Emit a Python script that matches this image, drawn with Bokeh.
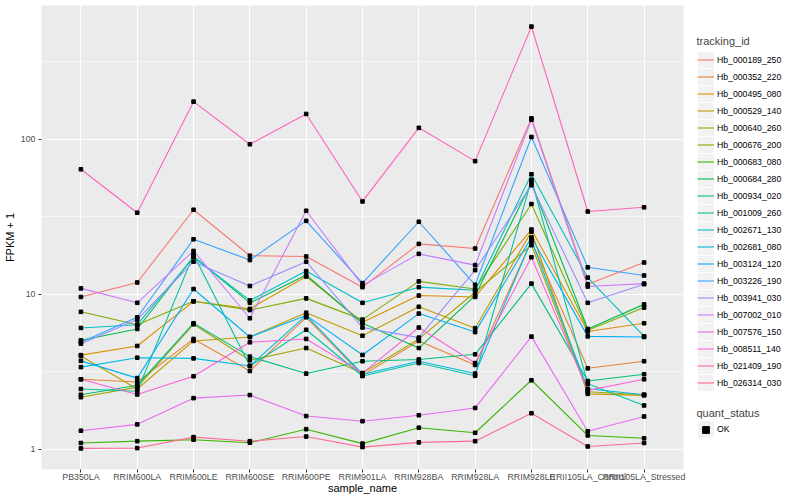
import math
from bokeh.plotting import figure
from bokeh.layouts import row
from bokeh.models import (ColumnDataSource, FactorRange, Range1d, FixedTicker,
                          NumeralTickFormatter, Legend, LegendItem, Label)
from bokeh.embed import file_html
from bokeh.resources import INLINE

samples = ["PB350LA", "RRIM600LA", "RRIM600LE", "RRIM600SE", "RRIM600PE",
           "RRIM901LA", "RRIM928BA", "RRIM928LA", "RRIM928LE",
           "RRII105LA_Control", "RRII105LA_Stressed"]

tracking_ids = ["Hb_000189_250", "Hb_000352_220", "Hb_000495_080", "Hb_000529_140",
                "Hb_000640_260", "Hb_000676_200", "Hb_000683_080", "Hb_000684_280",
                "Hb_000934_020", "Hb_001009_260", "Hb_002671_130", "Hb_002681_080",
                "Hb_003124_120", "Hb_003226_190", "Hb_003941_030", "Hb_007002_010",
                "Hb_007576_150", "Hb_008511_140", "Hb_021409_190", "Hb_026314_030"]

# FPKM + 1 per sample (order of `samples`)
Hb_000189_250 = [9.6, 11.9, 35, 17.7, 17.5, 11.1, 21.1, 19.7, 136, 11.6, 16.0]
Hb_000352_220 = [2.83, 2.72, 5.15, 3.2, 7.1, 3.0, 5.0, 3.5, 22.0, 3.33, 3.7]
Hb_000495_080 = [4.05, 4.64, 9.0, 8.05, 13.0, 6.6, 9.8, 9.6, 26.1, 5.75, 6.5]
Hb_000529_140 = [4.0, 2.45, 5.0, 5.3, 7.6, 5.4, 8.3, 6.04, 25.3, 2.28, 2.23]
Hb_000640_260 = [2.17, 2.52, 6.4, 3.75, 4.5, 3.1, 5.15, 10.3, 20.7, 2.35, 2.25]
Hb_000676_200 = [7.7, 6.36, 9.0, 7.9, 9.4, 6.86, 12.1, 10.8, 38.1, 5.85, 8.2]
Hb_000683_080 = [1.10, 1.13, 1.155, 1.105, 1.35, 1.09, 1.38, 1.28, 2.79, 1.23, 1.18]
Hb_000684_280 = [5.05, 5.97, 17.5, 8.8, 13.3, 6.5, 4.5, 9.8, 52.2, 5.97, 8.6]
Hb_000934_020 = [2.25, 2.59, 6.5, 3.96, 3.08, 3.7, 3.8, 4.1, 11.7, 2.76, 3.05]
Hb_001009_260 = [2.45, 2.37, 18.0, 3.45, 5.9, 2.97, 3.6, 2.98, 54.6, 2.65, 1.92]
Hb_002671_130 = [6.06, 6.36, 17.3, 9.12, 14.1, 8.8, 11.1, 10.6, 59.3, 12.8, 5.35]
Hb_002681_080 = [3.39, 3.9, 3.86, 3.45, 7.3, 3.05, 3.7, 3.08, 22.2, 2.46, 2.25]
Hb_003124_120 = [3.72, 2.88, 10.8, 5.3, 7.3, 4.06, 7.5, 5.7, 23.2, 5.35, 5.3]
Hb_003226_190 = [4.9, 7.1, 22.6, 16.6, 29.7, 11.8, 29.3, 11.5, 103, 14.9, 13.2]
Hb_003941_030 = [4.8, 6.86, 16.2, 11.3, 16.2, 6.1, 5.25, 14.3, 50.4, 8.8, 11.6]
Hb_007002_010 = [10.9, 8.8, 19.0, 7.0, 34.5, 11.4, 18.2, 15.4, 133, 11.2, 11.7]
Hb_007576_150 = [1.32, 1.45, 2.14, 2.24, 1.64, 1.52, 1.66, 1.85, 5.33, 1.31, 1.63]
Hb_008511_140 = [2.83, 2.26, 2.96, 4.9, 5.15, 3.1, 6.1, 3.6, 17.3, 2.4, 2.83]
Hb_021409_190 = [63.8, 33.5, 174, 92.5, 145, 39.6, 118, 72, 530, 34.1, 36.3]
Hb_026314_030 = [1.015, 1.02, 1.20, 1.13, 1.21, 1.035, 1.11, 1.13, 1.71, 1.045, 1.10]

series = [Hb_000189_250, Hb_000352_220, Hb_000495_080, Hb_000529_140, Hb_000640_260,
          Hb_000676_200, Hb_000683_080, Hb_000684_280, Hb_000934_020, Hb_001009_260,
          Hb_002671_130, Hb_002681_080, Hb_003124_120, Hb_003226_190, Hb_003941_030,
          Hb_007002_010, Hb_007576_150, Hb_008511_140, Hb_021409_190, Hb_026314_030]

colors = ["#F8766D", "#EA8331", "#D89000", "#C09B00", "#A3A500", "#7CAE00", "#39B600",
          "#00BB4E", "#00BF7D", "#00C1A3", "#00BFC4", "#00BAE0", "#00B0F6", "#35A2FF",
          "#9590FF", "#C77CFF", "#E76BF3", "#FA62DB", "#FF62BC", "#FF6C91"]

quant_status = ["OK"]
y_ticks = [1, 10, 100]
y_minor = [10 ** -0.5, 10 ** 0.5, 10 ** 1.5, 10 ** 2.5]

FONT = "Liberation Sans"
H = 500
MAIN_W = 689
LEG_W = 800 - MAIN_W
B_LEFT, B_RIGHT, B_TOP, B_BOTTOM = 40, 6, 5, 31
FH = H - B_TOP - B_BOTTOM          # frame height

# ---------------- main plot ----------------
all_vals = [v for s in series for v in s]
lo, hi = math.log10(min(all_vals)), math.log10(max(all_vals))
span = hi - lo
y_range = Range1d(10 ** (lo - 0.05 * span), 10 ** (hi + 0.05 * span))
x_range = FactorRange(factors=samples, range_padding=0.2, range_padding_units="absolute")

p = figure(width=MAIN_W, height=H, x_range=x_range, y_range=y_range, y_axis_type="log",
           output_backend="svg", toolbar_location=None,
           min_border_left=B_LEFT, min_border_right=B_RIGHT, min_border_top=B_TOP,
           min_border_bottom=B_BOTTOM)
p.background_fill_color = "#EBEBEB"
p.border_fill_color = "white"
p.outline_line_color = None

ticker = FixedTicker(ticks=y_ticks, minor_ticks=y_minor)
p.yaxis.ticker = ticker
p.ygrid.ticker = ticker
p.yaxis.formatter = NumeralTickFormatter(format="0")

for g in (p.xgrid, p.ygrid):
    g.grid_line_color = "white"
    g.grid_line_width = 1.1
p.ygrid.minor_grid_line_color = "white"
p.ygrid.minor_grid_line_width = 0.55

for ax in (p.xaxis, p.yaxis):
    ax.axis_line_color = None
    ax.major_tick_line_color = "#333333"
    ax.major_tick_in = 0
    ax.major_tick_out = 3
    ax.minor_tick_line_color = None
    ax.major_label_text_color = "#4D4D4D"
    ax.major_label_text_font_size = "8.8px"
    ax.major_label_text_font = FONT
    ax.axis_label_text_font_size = "11px"
    ax.axis_label_text_font_style = "normal"
    ax.axis_label_text_font = FONT
    ax.axis_label_text_color = "black"
p.xaxis.major_label_standoff = -1
p.xaxis.axis_label_standoff = -3
p.yaxis.major_label_standoff = 2
p.yaxis.axis_label_standoff = 2
p.xaxis.axis_label = "sample_name"
p.yaxis.axis_label = "FPKM + 1"

for col, vals in zip(colors, series):
    src = ColumnDataSource(dict(x=samples, y=vals))
    p.line("x", "y", source=src, line_color=col, line_width=1.1)

pts_src = ColumnDataSource(dict(x=[s for vals in series for s in samples],
                                y=[v for vals in series for v in vals]))
p.scatter("x", "y", source=pts_src, marker="square", size=3.6, color="black")

# ---------------- legend panel (frame aligned with the main frame) ----------------
lg = figure(width=LEG_W, height=H, x_range=Range1d(0, LEG_W), y_range=Range1d(0, FH),
            output_backend="svg", toolbar_location=None,
            x_axis_location=None, y_axis_location=None,
            min_border_left=0, min_border_right=0, min_border_top=B_TOP,
            min_border_bottom=B_BOTTOM)
lg.grid.visible = False
lg.outline_line_color = None
lg.background_fill_color = "white"
lg.border_fill_color = "white"

KEY = 17          # legend key size / row height (px)
KEY_X = 8         # key left edge in panel
ROW1_TOP = 46     # top of first tracking_id key, from frame top
TITLE1 = 35.7     # centre of "tracking_id" title, from frame top
QS_TOP = 415.5    # top of quant_status key, from frame top
TITLE2 = 407      # centre of "quant_status" title, from frame top

n = len(tracking_ids)
key_y = [FH - (ROW1_TOP + KEY * i + KEY / 2) for i in range(n)] + [FH - (QS_TOP + KEY / 2)]
lg.rect(x=[KEY_X + KEY / 2] * (n + 1), y=key_y, width=KEY - 1, height=KEY - 1,
        fill_color="#F2F2F2", line_color=None)

items = []
for tid, col in zip(tracking_ids, colors):
    r = lg.line(x=[-100, -99], y=[-100, -100], line_color=col, line_width=1.1)
    items.append(LegendItem(label=tid, renderers=[r]))
ok_r = lg.scatter(x=[-100], y=[-100], marker="square", size=3.6, color="black")


def style(leg):
    leg.background_fill_alpha = 0
    leg.border_line_color = None
    leg.padding = 0
    leg.margin = 0
    leg.spacing = 0
    leg.glyph_width = KEY
    leg.glyph_height = KEY
    leg.label_height = KEY
    leg.label_standoff = 3
    leg.label_text_font_size = "8.7px"
    leg.label_text_font = FONT
    leg.label_text_color = "black"


leg1 = Legend(items=items, location=(KEY_X, FH - (ROW1_TOP + KEY * n)))
style(leg1)
lg.add_layout(leg1)

leg2 = Legend(items=[LegendItem(label=quant_status[0], renderers=[ok_r])],
              location=(KEY_X, FH - (QS_TOP + KEY)))
style(leg2)
lg.add_layout(leg2)

lg.add_layout(Label(x=KEY_X - 1, y=FH - TITLE1, text="tracking_id",
                    text_font=FONT, text_font_size="11px", text_baseline="middle"))
lg.add_layout(Label(x=KEY_X - 1, y=FH - TITLE2, text="quant_status",
                    text_font=FONT, text_font_size="11px", text_baseline="middle"))

open("out.html", "w").write(file_html(row(p, lg), INLINE))
